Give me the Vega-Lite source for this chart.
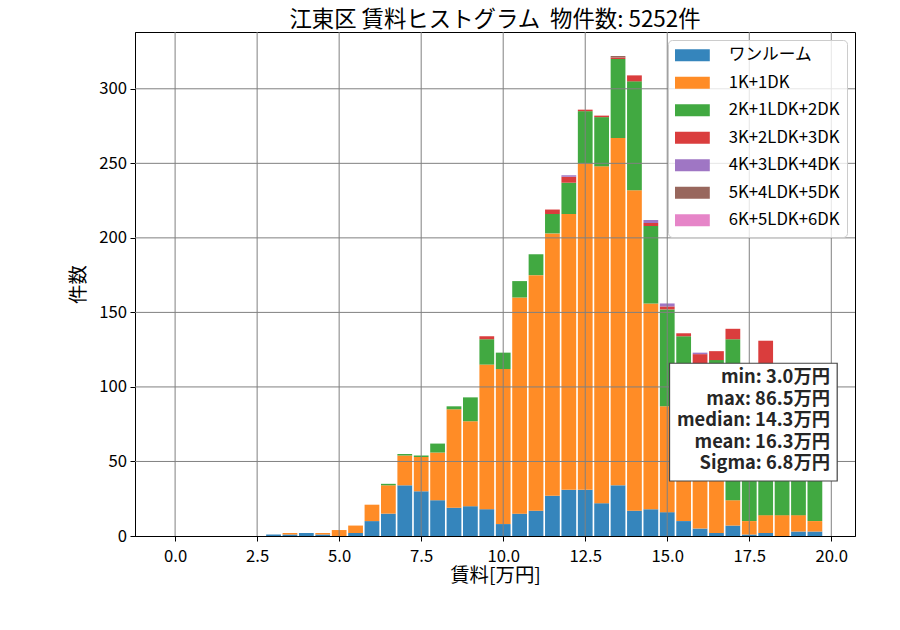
{
  "$schema": "https://vega.github.io/schema/vega-lite/v6.json",
  "width": 720,
  "height": 504,
  "autosize": {"type": "none"},
  "padding": {"left": 135, "top": 32, "right": 45, "bottom": 94},
  "background": "white",
  "title": {
    "text": "江東区 賃料ヒストグラム\u00a0 物件数: 5252件",
    "fontSize": 22.4,
    "fontWeight": "normal",
    "color": "black",
    "anchor": "middle",
    "offset": 0
  },
  "config": {
    "font": "Noto Sans CJK JP",
    "view": {"stroke": "black", "strokeWidth": 1},
    "axis": {
      "grid": false,
      "labelFontSize": 16.7,
      "labelColor": "black",
      "titleFontSize": 19.4,
      "titleFontWeight": "normal",
      "titleColor": "black",
      "tickColor": "black",
      "tickSize": 5,
      "tickWidth": 1,
      "domainColor": "black",
      "domainWidth": 1,
      "labelPadding": 3.5,
      "labelOverlap": false
    }
  },
  "layer": [
    {
      "data": {
        "values": [
          {"rent": 3.0, "type": "ワンルーム", "k": 0, "count": 1},
          {"rent": 3.5, "type": "ワンルーム", "k": 0, "count": 1},
          {"rent": 3.5, "type": "1K+1DK", "k": 1, "count": 1},
          {"rent": 4.0, "type": "ワンルーム", "k": 0, "count": 2},
          {"rent": 4.5, "type": "ワンルーム", "k": 0, "count": 1},
          {"rent": 4.5, "type": "1K+1DK", "k": 1, "count": 1},
          {"rent": 5.0, "type": "1K+1DK", "k": 1, "count": 4},
          {"rent": 5.5, "type": "ワンルーム", "k": 0, "count": 2},
          {"rent": 5.5, "type": "1K+1DK", "k": 1, "count": 5},
          {"rent": 6.0, "type": "ワンルーム", "k": 0, "count": 10},
          {"rent": 6.0, "type": "1K+1DK", "k": 1, "count": 11},
          {"rent": 6.5, "type": "ワンルーム", "k": 0, "count": 15},
          {"rent": 6.5, "type": "1K+1DK", "k": 1, "count": 19},
          {"rent": 6.5, "type": "2K+1LDK+2DK", "k": 2, "count": 1},
          {"rent": 7.0, "type": "ワンルーム", "k": 0, "count": 34},
          {"rent": 7.0, "type": "1K+1DK", "k": 1, "count": 20},
          {"rent": 7.0, "type": "2K+1LDK+2DK", "k": 2, "count": 1},
          {"rent": 7.5, "type": "ワンルーム", "k": 0, "count": 30},
          {"rent": 7.5, "type": "1K+1DK", "k": 1, "count": 23},
          {"rent": 7.5, "type": "2K+1LDK+2DK", "k": 2, "count": 1},
          {"rent": 8.0, "type": "ワンルーム", "k": 0, "count": 24},
          {"rent": 8.0, "type": "1K+1DK", "k": 1, "count": 32},
          {"rent": 8.0, "type": "2K+1LDK+2DK", "k": 2, "count": 6},
          {"rent": 8.5, "type": "ワンルーム", "k": 0, "count": 19},
          {"rent": 8.5, "type": "1K+1DK", "k": 1, "count": 66},
          {"rent": 8.5, "type": "2K+1LDK+2DK", "k": 2, "count": 2},
          {"rent": 9.0, "type": "ワンルーム", "k": 0, "count": 20},
          {"rent": 9.0, "type": "1K+1DK", "k": 1, "count": 57},
          {"rent": 9.0, "type": "2K+1LDK+2DK", "k": 2, "count": 16},
          {"rent": 9.5, "type": "ワンルーム", "k": 0, "count": 18},
          {"rent": 9.5, "type": "1K+1DK", "k": 1, "count": 97},
          {"rent": 9.5, "type": "2K+1LDK+2DK", "k": 2, "count": 17},
          {"rent": 9.5, "type": "3K+2LDK+3DK", "k": 3, "count": 2},
          {"rent": 10.0, "type": "ワンルーム", "k": 0, "count": 8},
          {"rent": 10.0, "type": "1K+1DK", "k": 1, "count": 104},
          {"rent": 10.0, "type": "2K+1LDK+2DK", "k": 2, "count": 11},
          {"rent": 10.5, "type": "ワンルーム", "k": 0, "count": 15},
          {"rent": 10.5, "type": "1K+1DK", "k": 1, "count": 145},
          {"rent": 10.5, "type": "2K+1LDK+2DK", "k": 2, "count": 11},
          {"rent": 11.0, "type": "ワンルーム", "k": 0, "count": 17},
          {"rent": 11.0, "type": "1K+1DK", "k": 1, "count": 158},
          {"rent": 11.0, "type": "2K+1LDK+2DK", "k": 2, "count": 14},
          {"rent": 11.5, "type": "ワンルーム", "k": 0, "count": 27},
          {"rent": 11.5, "type": "1K+1DK", "k": 1, "count": 176},
          {"rent": 11.5, "type": "2K+1LDK+2DK", "k": 2, "count": 13},
          {"rent": 11.5, "type": "3K+2LDK+3DK", "k": 3, "count": 3},
          {"rent": 12.0, "type": "ワンルーム", "k": 0, "count": 31},
          {"rent": 12.0, "type": "1K+1DK", "k": 1, "count": 185},
          {"rent": 12.0, "type": "2K+1LDK+2DK", "k": 2, "count": 21},
          {"rent": 12.0, "type": "3K+2LDK+3DK", "k": 3, "count": 4},
          {"rent": 12.0, "type": "4K+3LDK+4DK", "k": 4, "count": 1},
          {"rent": 12.5, "type": "ワンルーム", "k": 0, "count": 31},
          {"rent": 12.5, "type": "1K+1DK", "k": 1, "count": 219},
          {"rent": 12.5, "type": "2K+1LDK+2DK", "k": 2, "count": 35},
          {"rent": 12.5, "type": "3K+2LDK+3DK", "k": 3, "count": 1},
          {"rent": 13.0, "type": "ワンルーム", "k": 0, "count": 22},
          {"rent": 13.0, "type": "1K+1DK", "k": 1, "count": 226},
          {"rent": 13.0, "type": "2K+1LDK+2DK", "k": 2, "count": 33},
          {"rent": 13.0, "type": "3K+2LDK+3DK", "k": 3, "count": 1},
          {"rent": 13.5, "type": "ワンルーム", "k": 0, "count": 34},
          {"rent": 13.5, "type": "1K+1DK", "k": 1, "count": 233},
          {"rent": 13.5, "type": "2K+1LDK+2DK", "k": 2, "count": 53},
          {"rent": 13.5, "type": "3K+2LDK+3DK", "k": 3, "count": 1},
          {"rent": 13.5, "type": "5K+4LDK+5DK", "k": 5, "count": 1},
          {"rent": 14.0, "type": "ワンルーム", "k": 0, "count": 17},
          {"rent": 14.0, "type": "1K+1DK", "k": 1, "count": 215},
          {"rent": 14.0, "type": "2K+1LDK+2DK", "k": 2, "count": 73},
          {"rent": 14.0, "type": "3K+2LDK+3DK", "k": 3, "count": 4},
          {"rent": 14.5, "type": "ワンルーム", "k": 0, "count": 18},
          {"rent": 14.5, "type": "1K+1DK", "k": 1, "count": 138},
          {"rent": 14.5, "type": "2K+1LDK+2DK", "k": 2, "count": 52},
          {"rent": 14.5, "type": "3K+2LDK+3DK", "k": 3, "count": 2},
          {"rent": 14.5, "type": "4K+3LDK+4DK", "k": 4, "count": 2},
          {"rent": 15.0, "type": "ワンルーム", "k": 0, "count": 16},
          {"rent": 15.0, "type": "1K+1DK", "k": 1, "count": 71},
          {"rent": 15.0, "type": "2K+1LDK+2DK", "k": 2, "count": 65},
          {"rent": 15.0, "type": "3K+2LDK+3DK", "k": 3, "count": 2},
          {"rent": 15.0, "type": "4K+3LDK+4DK", "k": 4, "count": 2},
          {"rent": 15.5, "type": "ワンルーム", "k": 0, "count": 10},
          {"rent": 15.5, "type": "1K+1DK", "k": 1, "count": 60},
          {"rent": 15.5, "type": "2K+1LDK+2DK", "k": 2, "count": 64},
          {"rent": 15.5, "type": "3K+2LDK+3DK", "k": 3, "count": 2},
          {"rent": 16.0, "type": "ワンルーム", "k": 0, "count": 5},
          {"rent": 16.0, "type": "1K+1DK", "k": 1, "count": 50},
          {"rent": 16.0, "type": "2K+1LDK+2DK", "k": 2, "count": 57},
          {"rent": 16.0, "type": "3K+2LDK+3DK", "k": 3, "count": 10},
          {"rent": 16.0, "type": "4K+3LDK+4DK", "k": 4, "count": 1},
          {"rent": 16.5, "type": "ワンルーム", "k": 0, "count": 2},
          {"rent": 16.5, "type": "1K+1DK", "k": 1, "count": 43},
          {"rent": 16.5, "type": "2K+1LDK+2DK", "k": 2, "count": 73},
          {"rent": 16.5, "type": "3K+2LDK+3DK", "k": 3, "count": 6},
          {"rent": 17.0, "type": "ワンルーム", "k": 0, "count": 7},
          {"rent": 17.0, "type": "1K+1DK", "k": 1, "count": 17},
          {"rent": 17.0, "type": "2K+1LDK+2DK", "k": 2, "count": 108},
          {"rent": 17.0, "type": "3K+2LDK+3DK", "k": 3, "count": 7},
          {"rent": 17.5, "type": "ワンルーム", "k": 0, "count": 1},
          {"rent": 17.5, "type": "1K+1DK", "k": 1, "count": 9},
          {"rent": 17.5, "type": "2K+1LDK+2DK", "k": 2, "count": 88},
          {"rent": 17.5, "type": "3K+2LDK+3DK", "k": 3, "count": 3},
          {"rent": 18.0, "type": "ワンルーム", "k": 0, "count": 2},
          {"rent": 18.0, "type": "1K+1DK", "k": 1, "count": 12},
          {"rent": 18.0, "type": "2K+1LDK+2DK", "k": 2, "count": 86},
          {"rent": 18.0, "type": "3K+2LDK+3DK", "k": 3, "count": 31},
          {"rent": 18.5, "type": "1K+1DK", "k": 1, "count": 14},
          {"rent": 18.5, "type": "2K+1LDK+2DK", "k": 2, "count": 75},
          {"rent": 19.0, "type": "ワンルーム", "k": 0, "count": 3},
          {"rent": 19.0, "type": "1K+1DK", "k": 1, "count": 11},
          {"rent": 19.0, "type": "2K+1LDK+2DK", "k": 2, "count": 70},
          {"rent": 19.5, "type": "ワンルーム", "k": 0, "count": 3},
          {"rent": 19.5, "type": "1K+1DK", "k": 1, "count": 7},
          {"rent": 19.5, "type": "2K+1LDK+2DK", "k": 2, "count": 50}
        ]
      },
      "mark": {"type": "bar", "width": 14.77},
      "encoding": {
        "x": {
          "field": "rent",
          "type": "quantitative",
          "scale": {"domain": [-1.2225, 20.7225], "nice": false, "zero": false, "padding": 0},
          "axis": {
            "values": [0, 2.5, 5, 7.5, 10, 12.5, 15, 17.5, 20],
            "format": ".1f",
            "title": "賃料[万円]",
            "labelPadding": 7,
            "titlePadding": 2
          }
        },
        "y": {
          "field": "count",
          "type": "quantitative",
          "stack": "zero",
          "scale": {"domain": [0, 338.1], "nice": false},
          "axis": {
            "values": [0, 50, 100, 150, 200, 250, 300],
            "format": "d",
            "title": "件数",
            "titlePadding": 10
          }
        },
        "color": {
          "field": "type",
          "type": "nominal",
          "scale": {
            "domain": ["ワンルーム", "1K+1DK", "2K+1LDK+2DK", "3K+2LDK+3DK", "4K+3LDK+4DK", "5K+4LDK+5DK", "6K+5LDK+6DK"],
            "range": ["#3585bc", "#ff8c26", "#41a941", "#da3d3d", "#9f76c4", "#98675d", "#e685c8"]
          },
          "legend": {
            "title": null,
            "orient": "top-right",
            "offset": 8,
            "padding": 7,
            "fillColor": "rgba(255,255,255,0.8)",
            "strokeColor": "#cccccc",
            "cornerRadius": 4,
            "symbolType": "M-2.9,-1H2.9V1H-2.9Z",
            "symbolSize": 144,
            "symbolStrokeWidth": 0,
            "symbolOpacity": 1,
            "symbolOffset": 9.05,
            "labelOffset": 28,
            "labelFontSize": 16.7,
            "labelColor": "black",
            "labelLimit": 300,
            "clipHeight": 16.7,
            "rowPadding": 9.5
          }
        },
        "order": {"field": "k", "type": "quantitative", "sort": "ascending"}
      }
    },
    {"data": {"values": [{}]}, "mark": {"type": "rule", "color": "#808080", "strokeWidth": 1}, "encoding": {"x": {"datum": 0}}},
    {"data": {"values": [{}]}, "mark": {"type": "rule", "color": "#808080", "strokeWidth": 1}, "encoding": {"x": {"datum": 2.5}}},
    {"data": {"values": [{}]}, "mark": {"type": "rule", "color": "#808080", "strokeWidth": 1}, "encoding": {"x": {"datum": 5}}},
    {"data": {"values": [{}]}, "mark": {"type": "rule", "color": "#808080", "strokeWidth": 1}, "encoding": {"x": {"datum": 7.5}}},
    {"data": {"values": [{}]}, "mark": {"type": "rule", "color": "#808080", "strokeWidth": 1}, "encoding": {"x": {"datum": 10}}},
    {"data": {"values": [{}]}, "mark": {"type": "rule", "color": "#808080", "strokeWidth": 1}, "encoding": {"x": {"datum": 12.5}}},
    {"data": {"values": [{}]}, "mark": {"type": "rule", "color": "#808080", "strokeWidth": 1}, "encoding": {"x": {"datum": 15}}},
    {"data": {"values": [{}]}, "mark": {"type": "rule", "color": "#808080", "strokeWidth": 1}, "encoding": {"x": {"datum": 17.5}}},
    {"data": {"values": [{}]}, "mark": {"type": "rule", "color": "#808080", "strokeWidth": 1}, "encoding": {"x": {"datum": 20}}},
    {"data": {"values": [{}]}, "mark": {"type": "rule", "color": "#808080", "strokeWidth": 1}, "encoding": {"y": {"datum": 50}}},
    {"data": {"values": [{}]}, "mark": {"type": "rule", "color": "#808080", "strokeWidth": 1}, "encoding": {"y": {"datum": 100}}},
    {"data": {"values": [{}]}, "mark": {"type": "rule", "color": "#808080", "strokeWidth": 1}, "encoding": {"y": {"datum": 150}}},
    {"data": {"values": [{}]}, "mark": {"type": "rule", "color": "#808080", "strokeWidth": 1}, "encoding": {"y": {"datum": 200}}},
    {"data": {"values": [{}]}, "mark": {"type": "rule", "color": "#808080", "strokeWidth": 1}, "encoding": {"y": {"datum": 250}}},
    {"data": {"values": [{}]}, "mark": {"type": "rule", "color": "#808080", "strokeWidth": 1}, "encoding": {"y": {"datum": 300}}},
    {
      "data": {"values": [{}]},
      "mark": {"type": "rect", "fill": "white", "stroke": "#444444", "strokeWidth": 1.2},
      "encoding": {
        "x": {"datum": 15.07},
        "x2": {"datum": 20.18},
        "y": {"datum": 115.9},
        "y2": {"datum": 36.9}
      }
    },
    {
      "data": {"values": [{}]},
      "mark": {
        "type": "text",
        "text": ["min: 3.0万円", "max: 86.5万円", "median: 14.3万円", "mean: 16.3万円", "Sigma: 6.8万円"],
        "align": "right",
        "baseline": "middle",
        "fontSize": 18.3,
        "fontWeight": "bold",
        "lineHeight": 21.5,
        "color": "#262626"
      },
      "encoding": {
        "x": {"datum": 19.96},
        "y": {"datum": 105.8}
      }
    }
  ]
}
